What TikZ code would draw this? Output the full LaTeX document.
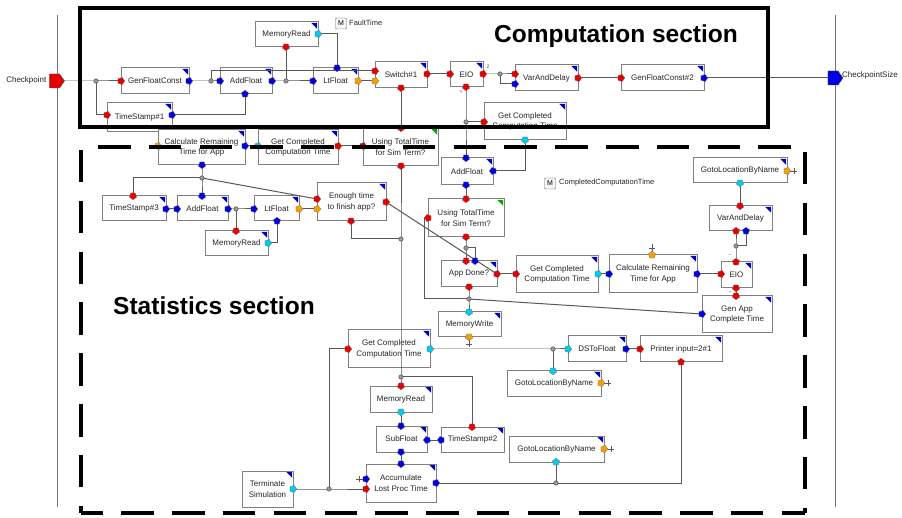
\documentclass[tikz,border=0pt]{standalone}
\usepackage{fontspec}
\setmainfont{Liberation Sans}
\usetikzlibrary{shapes.geometric,shapes.symbols}
\pgfdeclarelayer{bg}\pgfdeclarelayer{fg}
\pgfsetlayers{bg,main,fg}
\definecolor{portred}{RGB}{230,0,0}
\definecolor{portblue}{RGB}{0,0,225}
\definecolor{portcyan}{RGB}{0,205,235}
\definecolor{portorange}{RGB}{245,160,0}
\definecolor{cornerblue}{RGB}{0,0,200}
\definecolor{cornergreen}{RGB}{0,170,0}
\newcommand\fs{\fontsize{8}{10.5}\selectfont}
\tikzset{
 cornerfill/.style={path picture={\fill[#1] ([xshift=-0.8pt,yshift=-0.8pt]path picture bounding box.north east) -- ++(-6pt,0pt) -- ++(6pt,-6pt) -- cycle;}},
 blk/.style={draw=black!50, line width=1pt, fill=white, inner sep=0pt, align=center, font=\fs, text=black!85},
 prt/.style={regular polygon, regular polygon sides=5, minimum size=7.5pt, inner sep=0pt, draw=black!55, line width=0.3pt},
 wire/.style={draw=black!65, line width=1pt},
 junc/.style={circle, fill=black!40, draw=black!75, line width=0.4pt, minimum size=4.5pt, inner sep=0pt},
 secframe/.style={line width=4pt, black},
 dashframe/.style={line width=4pt, black, dash pattern=on 32.5pt off 18.3pt},
 lbl/.style={font=\fontsize{7.5}{9}\selectfont, inner sep=0pt, text=black!85},
 mbox/.style={draw=black!60, fill=black!4, rounded corners=1pt, minimum size=11pt, inner sep=0pt, font=\fontsize{7}{8}\selectfont},
 sectitle/.style={font=\fontsize{24.5}{28}\selectfont\bfseries, inner sep=0pt, anchor=base},
 tickmark/.style={draw=black!65, line width=0.7pt},
 tinymark/.style={font=\fontsize{5}{6}\selectfont, text=black!70, inner sep=0pt},
 portsig/.style={signal, signal to=east, signal pointer angle=110, draw=black!70, line width=0.4pt, minimum width=15pt, minimum height=14pt, inner sep=0pt},
}
\newcommand\mkblk[7][cornerblue]{\node[blk, cornerfill=#1, minimum width={#5-#3}, minimum height={#6-#4}] (#2) at ({(#3+#5)/2},{(#4+#6)/2}) {#7};}
\newcommand\prt[5]{\node[prt, fill=#4, rotate=#5] (#1) at (#2,#3) {};}
\newcommand\jn[3]{\node[junc] (#1) at (#2,#3) {};}
\begin{document}
\begin{tikzpicture}[x=1pt,y=-1pt]
\useasboundingbox (0,0) rectangle (902,518);
\begin{pgfonlayer}{bg}
\fill[white] (0,0) rectangle (902,518);
\draw[black!55, line width=1pt] (57,15) -- (57,507);
\draw[black!55, line width=1pt] (835,15) -- (835,507);
\end{pgfonlayer}

% ---------- computation section blocks
\mkblk{gfc}{121}{68}{189}{94}{GenFloatConst}
\mkblk{tsa}{107}{103}{172}{132}{TimeStamp\#1}
\mkblk{afa}{220}{68}{272}{94}{AddFloat}
\mkblk{mra}{255}{22}{318}{47}{MemoryRead}
\mkblk{lta}{313}{68}{358}{94}{LtFloat}
\mkblk{swa}{375}{62}{427}{88}{Switch\#1}
\mkblk{eioa}{450}{62}{483}{87}{EIO}
\mkblk{vda}{515}{65}{578}{91}{VarAndDelay}
\mkblk{gfcb}{621}{65}{704}{91}{GenFloatConst\#2}
\mkblk{gcta}{484}{103}{566}{140}{Get Completed\\Computation Time}

% ---------- statistics section blocks
\mkblk{cra}{158}{130}{245}{165}{Calculate Remaining\\Time for App}
\mkblk{gctb}{258}{130}{338}{165}{Get Completed\\Computation Time}
\mkblk[cornergreen]{uta}{363}{128}{438}{166}{Using TotalTime\\for Sim Term?}
\mkblk{afb}{441}{158}{493}{185}{AddFloat}
\mkblk[cornergreen]{utb}{428}{199}{504}{237}{Using TotalTime\\for Sim Term?}
\mkblk{ad}{441}{261}{497}{287}{App Done?}
\mkblk{gctc}{516}{256}{598}{293}{Get Completed\\Computation Time}
\mkblk{crb}{609}{255}{697}{293}{Calculate Remaining\\Time for App}
\mkblk{eiob}{721}{262}{752}{288}{EIO}
\mkblk{vdb}{709}{206}{772}{231}{VarAndDelay}
\mkblk{gla}{693}{158}{787}{183}{GotoLocationByName}
\mkblk{ga}{702}{296}{772}{333}{Gen App\\Complete Time}
\mkblk{mw}{438}{312}{501}{337}{MemoryWrite}
\mkblk{tsc}{102}{196}{166}{221}{TimeStamp\#3}
\mkblk{afc}{177}{196}{228}{221}{AddFloat}
\mkblk{ltb}{254}{196}{299}{221}{LtFloat}
\mkblk{mrb}{205}{231}{268}{256}{MemoryRead}
\mkblk{et}{317}{183}{386}{221}{Enough time\\to finish app?}
\mkblk{gctd}{348}{330}{430}{368}{Get Completed\\Computation Time}
\mkblk{ds}{568}{336}{626}{362}{DSToFloat}
\mkblk{pin}{640}{336}{722}{362}{Printer input=2\#1}
\mkblk{glb}{507}{371}{601}{396}{GotoLocationByName}
\mkblk{glc}{509}{436}{604}{462}{GotoLocationByName}
\mkblk{tsb}{441}{427}{504}{452}{TimeStamp\#2}
\mkblk{mrc}{370}{386}{432}{412}{MemoryRead}
\mkblk{sf}{376}{426}{427}{452}{SubFloat}
\mkblk{acc}{366}{464}{436}{502}{Accumulate\\Lost Proc Time}
\mkblk{term}{242}{471}{293}{507}{Terminate\\Simulation}

% ---------- labels and memory markers
\node[mbox] (mft) at (341,23.5) {M};
\node[lbl, anchor=west] (mftl) at (349,23) {FaultTime};
\node[mbox] (mcct) at (550,183.5) {M};
\node[lbl, anchor=west] (mcctl) at (559,183) {CompletedComputationTime};
\node[sectitle] (tcomp) at (616,43) {Computation section};
\node[sectitle] (tstat) at (214,315) {Statistics section};
\node[tinymark] (m2) at (488,67) {2};
\node[tinymark] (m3) at (461,92) {=};
\node[tinymark] (m4) at (730,256) {\textasciitilde};
\node[tinymark] (m5) at (730,293) {\textasciitilde};

\begin{pgfonlayer}{fg}
\node[portsig, fill=portred] (cp) at (54.5,81) {};
\node[lbl, anchor=east, font=\fontsize{8}{9}\selectfont] (cpl) at (46.5,80) {Checkpoint};
\node[portsig, fill=portblue] (cps) at (833,78) {};
\node[lbl, anchor=west, font=\fontsize{8}{9}\selectfont] (cpsl) at (842,75) {CheckpointSize};
% ports computation
\prt{gfc-i}{121}{81}{portred}{-90}
\prt{gfc-o}{189}{81}{portblue}{-90}
\prt{tsa-i}{107}{115}{portred}{-90}
\prt{tsa-o}{172}{115}{portblue}{-90}
\prt{afa-a}{220}{81}{portblue}{-90}
\prt{afa-o}{272}{81}{portblue}{-90}
\prt{afa-b}{245}{94}{portblue}{0}
\prt{mra-o}{286}{47}{portred}{180}
\prt{mra-c}{318}{34}{portcyan}{-90}
\prt{lta-a}{313}{81}{portblue}{-90}
\prt{lta-t}{337}{68}{portblue}{180}
\prt{lta-o}{358}{81}{portorange}{-90}
\prt{swa-a}{375}{71}{portred}{-90}
\prt{swa-b}{375}{81}{portorange}{-90}
\prt{swa-o}{427}{74}{portred}{-90}
\prt{swa-d}{401}{88}{portred}{180}
\prt{eioa-i}{450}{74}{portred}{-90}
\prt{eioa-o}{483}{74}{portred}{-90}
\prt{eioa-d}{466}{87}{portred}{180}
\prt{vda-a}{515}{74}{portred}{-90}
\prt{vda-b}{515}{84}{portblue}{-90}
\prt{vda-o}{578}{78}{portred}{-90}
\prt{gfcb-i}{621}{78}{portred}{-90}
\prt{gfcb-o}{704}{78}{portblue}{-90}
\prt{gcta-i}{484}{122}{portred}{-90}
\prt{gcta-o}{525}{140}{portcyan}{180}
% ports statistics
\prt{cra-l}{158}{146}{portorange}{-90}
\prt{cra-r}{245}{146}{portblue}{-90}
\prt{cra-d}{202}{165}{portblue}{180}
\prt{gctb-l}{258}{146}{portcyan}{-90}
\prt{gctb-r}{338}{146}{portred}{-90}
\prt{uta-t}{401}{128}{portred}{180}
\prt{uta-l}{363}{146}{portred}{-90}
\prt{uta-d}{401}{166}{portred}{180}
\prt{afb-t}{466}{158}{portblue}{180}
\prt{afb-r}{493}{171}{portblue}{90}
\prt{afb-d}{466}{185}{portblue}{180}
\prt{utb-t}{466}{199}{portred}{180}
\prt{utb-l}{428}{218}{portred}{90}
\prt{utb-d}{466}{237}{portred}{180}
\prt{ad-a}{466}{261}{portred}{180}
\prt{ad-b}{475}{261}{portblue}{180}
\prt{ad-r}{497}{274}{portred}{-90}
\prt{ad-d}{469}{287}{portred}{180}
\prt{gctc-l}{516}{274}{portred}{-90}
\prt{gctc-r}{598}{274}{portcyan}{-90}
\prt{crb-l}{609}{274}{portblue}{-90}
\prt{crb-r}{697}{274}{portblue}{-90}
\prt{crb-t}{652}{255}{portorange}{0}
\prt{eiob-l}{721}{274}{portred}{-90}
\prt{eiob-t}{736}{262}{portred}{0}
\prt{eiob-d}{736}{288}{portred}{180}
\prt{vdb-t}{740}{206}{portred}{180}
\prt{vdb-a}{736}{231}{portred}{0}
\prt{vdb-b}{746}{231}{portblue}{0}
\prt{gla-d}{740}{183}{portcyan}{180}
\prt{gla-r}{787}{171}{portorange}{-90}
\prt{ga-t}{736}{296}{portred}{180}
\prt{ga-l}{702}{314}{portblue}{-90}
\prt{mw-t}{469}{312}{portcyan}{180}
\prt{mw-d}{469}{337}{portorange}{180}
\prt{tsc-t}{133}{196}{portred}{180}
\prt{tsc-r}{166}{209}{portblue}{-90}
\prt{afc-l}{177}{209}{portblue}{-90}
\prt{afc-t}{202}{196}{portblue}{180}
\prt{afc-r}{228}{209}{portblue}{-90}
\prt{ltb-l}{254}{209}{portblue}{-90}
\prt{ltb-d}{277}{221}{portblue}{0}
\prt{ltb-r}{299}{209}{portorange}{-90}
\prt{mrb-t}{236}{231}{portred}{180}
\prt{mrb-r}{268}{243}{portcyan}{-90}
\prt{et-a}{317}{199}{portred}{-90}
\prt{et-b}{317}{209}{portorange}{-90}
\prt{et-r}{386}{202}{portred}{-90}
\prt{et-d}{351}{221}{portred}{180}
\prt{gctd-l}{348}{349}{portred}{-90}
\prt{gctd-r}{430}{349}{portcyan}{-90}
\prt{ds-l}{568}{349}{portcyan}{-90}
\prt{ds-r}{626}{349}{portblue}{-90}
\prt{pin-l}{640}{349}{portred}{-90}
\prt{pin-d}{681}{362}{portred}{0}
\prt{glb-t}{553}{371}{portcyan}{180}
\prt{glb-r}{601}{383}{portorange}{-90}
\prt{glc-d}{556}{462}{portcyan}{0}
\prt{glc-r}{604}{449}{portorange}{-90}
\prt{tsb-t}{472}{427}{portred}{180}
\prt{tsb-l}{441}{440}{portblue}{90}
\prt{mrc-t}{401}{386}{portred}{180}
\prt{mrc-d}{401}{412}{portcyan}{180}
\prt{sf-t}{401}{426}{portblue}{180}
\prt{sf-r}{427}{440}{portblue}{90}
\prt{sf-d}{401}{452}{portblue}{180}
\prt{acc-t}{401}{464}{portblue}{180}
\prt{acc-a}{366}{479}{portblue}{-90}
\prt{acc-b}{366}{489}{portred}{-90}
\prt{acc-r}{436}{483}{portblue}{-90}
\prt{term-r}{293}{489}{portcyan}{-90}
% junctions
\jn{j1}{96}{81}
\jn{j2}{211}{81}
\jn{j3}{286}{81}
\jn{j4}{500}{74}
\jn{j5}{466}{122}
\jn{k1}{202}{178}
\jn{k2}{236}{209}
\jn{k3}{401}{239}
\jn{k4}{466}{248}
\jn{k5}{469}{299}
\jn{k6}{401}{377}
\jn{k7}{553}{349}
\jn{k8}{556}{483}
\jn{k9}{329}{489}
\jn{k10}{736}{246}
\end{pgfonlayer}

% ---------- wires (computation)
\draw[wire] (cp.center) -- (j1.center) -- (gfc-i.center);
\draw[wire] (j1.center) |- (tsa-i.center);
\draw[wire] (gfc-o.center) -- (j2.center) -- (afa-a.center);
\draw[wire] (j2.center) |- (swa-a.center);
\draw[wire] (afa-o.center) -- (j3.center) -- (lta-a.center);
\draw[wire] (j3.center) -- (mra-o.center);
\draw[wire] (mra-c.center) -| (lta-t.center);
\draw[wire] (tsa-o.center) -| (afa-b.center);
\draw[wire] (lta-o.center) -- (swa-b.center);
\draw[wire] (swa-o.center) -- (eioa-i.center);
\draw[wire] (eioa-o.center) -- (j4.center) -- (vda-a.center);
\draw[wire] (j4.center) |- (vda-b.center);
\draw[wire] (vda-o.center) -- (gfcb-i.center);
\draw[wire] (gfcb-o.center) -- (cps.center);
\draw[wire] (eioa-d.center) -- (j5.center) -- (afb-t.center);
\draw[wire] (j5.center) -- (gcta-i.center);
\draw[wire] (swa-d.center) -- (uta-t.center);
% ---------- wires (statistics)
\draw[wire] (cra-r.center) -- (gctb-l.center);
\draw[wire] (gctb-r.center) -- (uta-l.center);
\draw[wire] (cra-d.center) -- (k1.center) -- (afc-t.center);
\draw[wire] (k1.center) -| (tsc-t.center);
\draw[wire] (k1.center) -- (et-a.center);
\draw[wire] (tsc-r.center) -- (afc-l.center);
\draw[wire] (afc-r.center) -- (k2.center) -- (ltb-l.center);
\draw[wire] (k2.center) -- (mrb-t.center);
\draw[wire] (mrb-r.center) -| (ltb-d.center);
\draw[wire] (ltb-r.center) -- (et-b.center);
\draw[wire] (et-d.center) |- (k3.center);
\draw[wire] (uta-d.center) -- (k3.center) -- (k6.center) -- (mrc-t.center);
\draw[wire] (et-r.center) -- (ad-r.center);
\draw[wire] (gcta-o.center) |- (afb-r.center);
\draw[wire] (afb-d.center) -- (utb-t.center);
\draw[wire] (utb-d.center) -- (k4.center) -- (ad-a.center);
\draw[wire] (k4.center) -| (ad-b.center);
\draw[wire] (ad-d.center) -- (k5.center) -- (mw-t.center);
\draw[wire] (utb-l.center) -- (424,218) -- (424,299) -- (k5.center);
\draw[wire] (k5.center) -- (ga-l.center);
\draw[wire] (ad-r.center) -- (gctc-l.center);
\draw[wire] (gctc-r.center) -- (crb-l.center);
\draw[wire] (crb-r.center) -- (eiob-l.center);
\draw[wire] (eiob-t.center) -- (k10.center) -- (vdb-a.center);
\draw[wire] (k10.center) -| (vdb-b.center);
\draw[wire] (vdb-t.center) -- (gla-d.center);
\draw[wire] (eiob-d.center) -- (ga-t.center);
\draw[wire] (k6.center) -| (tsb-t.center);
\draw[wire] (mrc-d.center) -- (sf-t.center);
\draw[wire] (sf-r.center) -- (tsb-l.center);
\draw[wire] (sf-d.center) -- (acc-t.center);
\draw[wire] (gctd-r.center) -- (k7.center) -- (ds-l.center);
\draw[wire] (k7.center) -- (glb-t.center);
\draw[wire] (ds-r.center) -- (pin-l.center);
\draw[wire] (pin-d.center) |- (k8.center);
\draw[wire] (k8.center) -- (acc-r.center);
\draw[wire] (k8.center) -- (glc-d.center);
\draw[wire] (term-r.center) -- (k9.center) -- (acc-b.center);
\draw[wire] (k9.center) |- (gctd-l.center);
% small terminal symbols
\draw[tickmark] (790,171) -- (797,171) (794,168) -- (794,174);
\draw[tickmark] (604,383) -- (611,383) (608,380) -- (608,386);
\draw[tickmark] (607,449) -- (614,449) (611,446) -- (611,452);
\draw[tickmark] (652,252) -- (652,244) (649,248) -- (655,248);
\draw[tickmark] (469,340) -- (469,347) (466,344) -- (472,344);
\draw[tickmark] (363,479) -- (356,479) (359,476) -- (359,482);

% ---------- section frames
\begin{pgfonlayer}{fg}
\draw[secframe] (80,8) rectangle (768,127);
\draw[dashframe] (98,147) -- (805,147);
\draw[dashframe] (81,150) -- (81,513);
\draw[dashframe, dash phase=10.5pt] (81,513) -- (805,513);
\draw[dashframe] (805,152) -- (805,513);
\end{pgfonlayer}
\end{tikzpicture}
\end{document}
